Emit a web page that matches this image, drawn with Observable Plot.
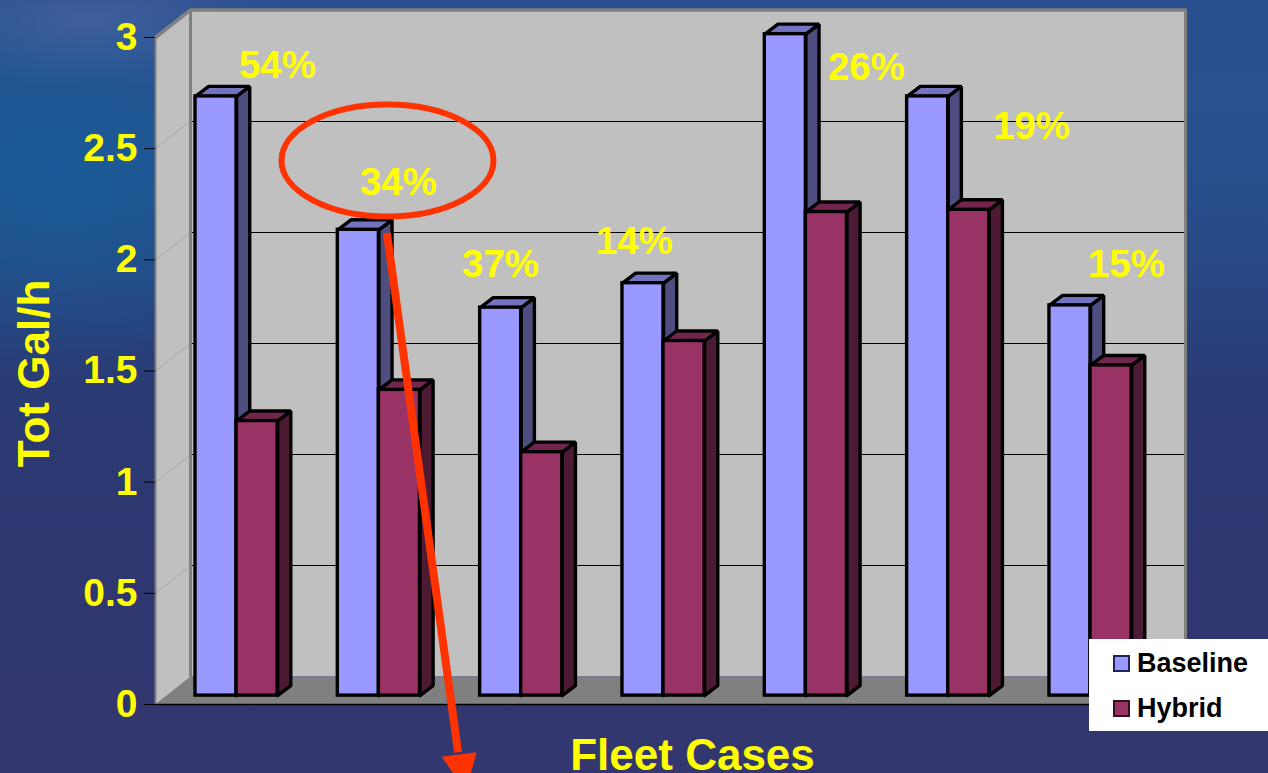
<!DOCTYPE html>
<html>
<head>
<meta charset="utf-8">
<script src="https://cdn.jsdelivr.net/npm/d3@7"></script>
<script src="https://cdn.jsdelivr.net/npm/@observablehq/plot@0.6"></script>
<style>
html,body{margin:0;padding:0;width:1268px;height:773px;overflow:hidden}
body{position:relative;font-family:"Liberation Sans",Arial,sans-serif;
 background:
  radial-gradient(ellipse 200px 70px at 90px 20px, rgba(90,110,170,.45), rgba(90,110,170,0)),
  radial-gradient(ellipse 260px 190px at 60px 175px, rgba(20,95,155,.75), rgba(20,95,155,0)),
  linear-gradient(180deg,#2b4f8e 0%,#28508f 18%,#274a86 32%,#2a3b74 50%,#2f3670 75%,#33376f 100%);}
svg{display:block}
#legend{position:absolute;left:1089px;top:639px;width:179px;height:92px;background:#fff;color:#000;font-weight:bold;font-size:27px}
#legend div{position:absolute;left:24px;display:flex;align-items:center;height:30px;gap:7px}
#legend i{display:block;width:13px;height:13px;border:2px solid}
</style>
</head>
<body>
<div id="chart"></div>
<div id="legend">
  <div style="top:9px"><i style="background:#9999ff;border-color:#222255"></i>Baseline</div>
  <div style="top:54px"><i style="background:#993366;border-color:#33111f"></i>Hybrid</div>
</div>
<script>
const cases = [0, 1, 2, 3, 4, 5, 6];
const baseline = [2.695, 2.095, 1.745, 1.855, 2.975, 2.695, 1.755];
const hybrid = [1.235, 1.375, 1.095, 1.595, 2.175, 2.185, 1.485];
const percents = ["54%", "34%", "37%", "14%", "26%", "19%", "15%"];
const percentX = [0.576, 1.426, 2.143, 3.084, 4.714, 5.874, 6.541];
const percentY = [2.875, 2.348, 1.979, 2.083, 2.866, 2.6, 1.979];
const yTicks = [0, 0.5, 1, 1.5, 2, 2.5, 3];

// projection constants, in scale units
const wallDx = 0.246, wallDy = 0.1237, barW = 0.2885, barDx = 0.0925, barDy = 0.045, floor = 0.04;
const xMax = 6.956;

const poly = (id, color, pts) => [...pts, pts[0]].map(([x, y]) => ({id, color, x, y}));

const walls = [
  ...poly("side", "#c0c0c0", [[-0.281, 0], [-0.281, 3], [-0.281 + wallDx, 3 + wallDy], [-0.281 + wallDx, wallDy]]),
  ...poly("floor", "#808080", [[-0.281, 0], [-0.281 + wallDx, wallDy], [xMax, wallDy], [xMax - wallDx, 0]])
];
const backX1 = -0.281 + wallDx, backX2 = xMax;

function barFaces(series, offset, side, top) {
  return cases.flatMap((c, i) => {
    const l = c + offset, r = l + barW, v = series[i] + floor;
    return [
      ...poly(`s${offset}-${i}`, side, [[r, floor], [r, v], [r + barDx, v + barDy], [r + barDx, floor + barDy]]),
      ...poly(`t${offset}-${i}`, top, [[l, v], [r, v], [r + barDx, v + barDy], [l + barDx, v + barDy]])
    ];
  });
}
const faces = [
  ...barFaces(baseline, 0, "#4d4d80", "#7373bf"),
  ...barFaces(hybrid, barW, "#4d1a33", "#73264d")
];
const fronts = [
  ...cases.map((c, i) => ({x1: c, x2: c + barW, y: baseline[i] + floor, color: "#9999ff"})),
  ...cases.map((c, i) => ({x1: c + barW, x2: c + 2 * barW, y: hybrid[i] + floor, color: "#993366"}))
];
const labels = percents.map((t, i) => ({t, x: percentX[i], y: percentY[i]}));

const arrowFrom = [1.345, 2.12], arrowTo = [1.845, -0.215];
const arrowHead = poly("head", "#ff3300", [[1.73, -0.235], [1.975, -0.215], [1.9, -0.39]]);
const ellipseAt = {x: 1.349, y: 2.447};
const ellipse = {
  draw(ctx, size) {
    const a = Math.sqrt(size / Math.PI), b = a * 56 / 106, k = 0.5523;
    ctx.moveTo(a, 0);
    ctx.bezierCurveTo(a, k * b, k * a, b, 0, b);
    ctx.bezierCurveTo(-k * a, b, -a, k * b, -a, 0);
    ctx.bezierCurveTo(-a, -k * b, -k * a, -b, 0, -b);
    ctx.bezierCurveTo(k * a, -b, a, -k * b, a, 0);
    ctx.closePath();
  }
};

const chart = Plot.plot({
  width: 1268, height: 773,
  marginLeft: 155, marginRight: 0, marginTop: 37, marginBottom: 69,
  style: {background: "transparent", fontFamily: "'Liberation Sans',Arial,sans-serif", overflow: "hidden"},
  x: {domain: [-0.281, 7.539], axis: null},
  y: {domain: [0, 3], label: null},
  color: {type: "identity"},
  marks: [
    // back wall
    Plot.rect([0], {x1: backX1, x2: backX2, y1: wallDy, y2: 3 + wallDy, fill: "#c0c0c0"}),
    Plot.line(walls, {x: "x", y: "y", z: "id", fill: "color", stroke: null}),
    // wall gridlines
    Plot.ruleY(yTicks.slice(1, -1), {y: d => d + wallDy, x1: backX1, x2: backX2, stroke: "#000", strokeWidth: 1, shapeRendering: "crispEdges"}),
    Plot.link(yTicks.slice(1, -1), {x1: -0.281, x2: backX1, y1: d => d, y2: d => d + wallDy, stroke: "#a8a8a8", strokeWidth: 1}),
    // wall edges
    Plot.line([[-0.281, 3], [backX1, 3 + wallDy], [backX2, 3 + wallDy]], {x: "0", y: "1", stroke: "#808080", strokeWidth: 3.5}),
    Plot.ruleX([backX1], {y1: wallDy, y2: 3 + wallDy, stroke: "#808080", strokeWidth: 3}),
    Plot.ruleX([backX2], {y1: wallDy, y2: 3 + wallDy, stroke: "#808080", strokeWidth: 3}),
    Plot.ruleX([-0.281], {y1: 0, y2: 3, stroke: "#808080", strokeWidth: 2}),
    Plot.ruleY([0], {x1: -0.281, x2: xMax - wallDx, stroke: "#000", strokeWidth: 1.5}),
    Plot.axisY({ticks: yTicks, tickFormat: d => String(d), tickSize: 11, tickPadding: 7, stroke: "#000", fill: "#ffff00", fontSize: 39, fontWeight: "bold", label: null}),
    // bars
    Plot.line(faces, {x: "x", y: "y", z: "id", fill: "color", stroke: "#000", strokeWidth: 3.4, strokeLinejoin: "miter"}),
    Plot.rectY(fronts, {x1: "x1", x2: "x2", y1: floor, y2: "y", fill: "color", stroke: "#000", strokeWidth: 3.4, strokeLinejoin: "miter"}),
    // percent labels
    Plot.text(labels, {x: "x", y: "y", text: "t", fill: "#ffff00", fontSize: 38.5, fontWeight: "bold", textAnchor: "middle", lineAnchor: "middle"}),
    // annotation
    Plot.dot([ellipseAt], {x: "x", y: "y", r: 106, symbol: ellipse, fill: "none", stroke: "#ff3300", strokeWidth: 6}),
    Plot.link([0], {x1: arrowFrom[0], y1: arrowFrom[1], x2: arrowTo[0], y2: arrowTo[1], stroke: "#ff3300", strokeWidth: 8}),
    Plot.line(arrowHead, {x: "x", y: "y", z: "id", fill: "color", stroke: null}),
    // axis titles
    Plot.text(["Tot Gal/h"], {x: -1.131, y: 1.489, text: d => d, rotate: -90, fill: "#ffff00", fontSize: 44, fontWeight: "bold", textAnchor: "middle", lineAnchor: "middle"}),
    Plot.text(["Fleet Cases"], {x: 3.492, y: -0.229, text: d => d, fill: "#ffff00", fontSize: 44, fontWeight: "bold", textAnchor: "middle", lineAnchor: "middle"})
  ]
});
document.getElementById("chart").append(chart);
</script>
</body>
</html>
